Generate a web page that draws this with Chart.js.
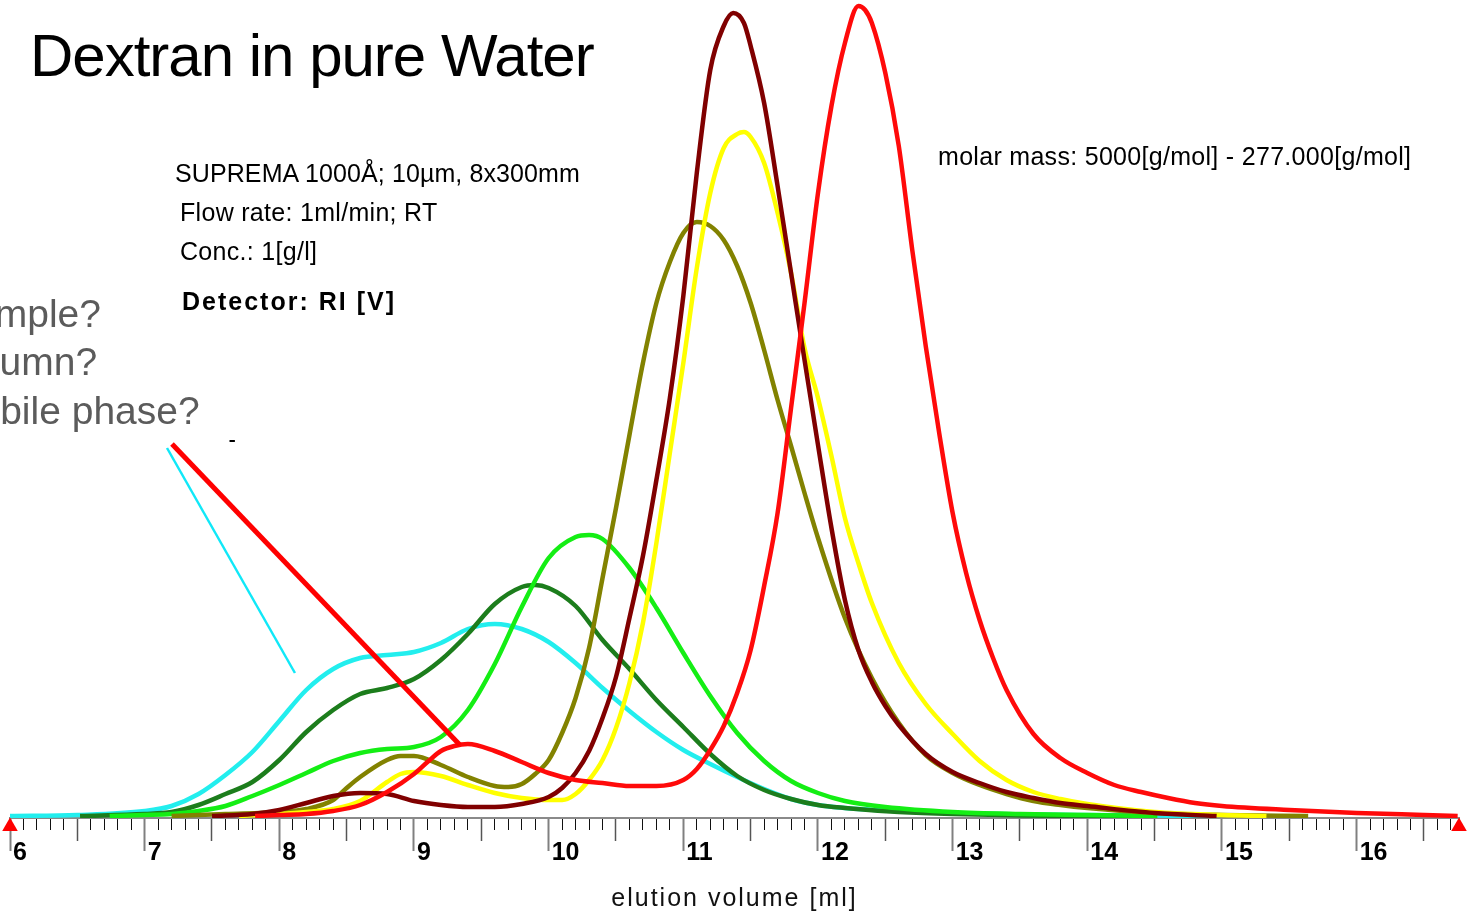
<!DOCTYPE html>
<html>
<head>
<meta charset="utf-8">
<title>Dextran in pure Water</title>
<script src="https://cdn.jsdelivr.net/npm/chart.js@4.4.1/dist/chart.umd.min.js"></script>
<style>
  html, body { margin: 0; padding: 0; background: #fff; }
  #wrap { position: relative; width: 1471px; height: 912px; overflow: hidden; }
  #wrap canvas { position: absolute; left: 0; top: 0; }
  .lbl { position: absolute; white-space: nowrap; line-height: 1; font-family: Arial, "Liberation Sans", sans-serif; color: #000; }
  .info { font-size: 25px; letter-spacing: 0.3px; }
  .ask { font-size: 39px; color: #5b5b5b; }
</style>
</head>
<body>
<div id="wrap">
  <canvas id="sec"></canvas>
  <div class="lbl" style="left:30px; top:26px; font-size:60px; letter-spacing:-1px;">Dextran in pure Water</div>
  <div class="lbl info" style="left:175px; top:161px; letter-spacing:0.1px;">SUPREMA 1000Å; 10µm, 8x300mm</div>
  <div class="lbl info" style="left:180px; top:200px;">Flow rate: 1ml/min; RT</div>
  <div class="lbl info" style="left:180px; top:239px;">Conc.: 1[g/l]</div>
  <div class="lbl info" style="left:182px; top:289px; font-weight:bold; letter-spacing:2px;">Detector: RI [V]</div>
  <div class="lbl info" style="left:938px; top:144px;">molar mass: 5000[g/mol] - 277.000[g/mol]</div>
  <div class="lbl ask" style="left:-53px; top:294px;">Sample?</div>
  <div class="lbl ask" style="left:-59px; top:342px;">Column?</div>
  <div class="lbl ask" style="left:-54px; top:391px;">Mobile phase?</div>
  <div class="lbl" style="left:0; width:1469px; text-align:center; top:885px; font-size:25px; letter-spacing:2px; color:#111;">elution volume [ml]</div>
</div>
<script>
// elution volume [ml] / detector signal (RI)
const cyanX = [6.0, 6.5, 7.0, 7.2, 7.4, 7.6, 7.8, 8.0, 8.2, 8.4, 8.6, 8.8, 9.0, 9.2, 9.4, 9.6, 9.8, 10.0, 10.2, 10.4, 10.6, 10.8, 11.0, 11.2, 11.4, 11.6, 11.8, 12.0, 12.2, 12.6, 13.0, 14.0, 14.95];
const cyanY = [2, 3, 7, 12, 24, 43, 66, 97, 128, 149, 160, 163, 166, 175, 189, 194, 189, 176, 155, 130, 107, 86, 68, 54, 41, 29, 19, 13, 10, 7, 5, 3, 2];

const darkGreenX = [6.52, 7.0, 7.2, 7.4, 7.6, 7.8, 8.0, 8.2, 8.4, 8.6, 8.8, 9.0, 9.2, 9.4, 9.6, 9.8, 9.9, 10.0, 10.2, 10.4, 10.6, 10.8, 11.0, 11.2, 11.4, 11.6, 11.8, 12.0, 12.2, 12.6, 13.0, 14.0, 14.5];
const darkGreenY = [2, 4, 6, 13, 24, 36, 58, 86, 108, 124, 130, 139, 158, 184, 214, 231, 233, 230, 212, 178, 149, 118, 91, 64, 42, 28, 19, 13, 10, 6, 4, 2, 2];

const greenX = [6.74, 7.0, 7.2, 7.4, 7.6, 7.8, 8.0, 8.2, 8.4, 8.6, 8.8, 9.0, 9.2, 9.4, 9.6, 9.8, 10.0, 10.2, 10.3, 10.4, 10.6, 10.8, 11.0, 11.2, 11.4, 11.6, 11.8, 12.0, 12.2, 12.5, 13.0, 13.5, 14.0, 14.52];
const greenY = [2, 3, 4, 7, 12, 22, 33, 45, 57, 65, 69, 71, 81, 108, 154, 211, 260, 281, 283, 279, 250, 210, 165, 122, 85, 57, 37, 25, 17, 11, 6, 4, 3, 2];

const oliveX = [7.2, 7.6, 8.0, 8.2, 8.4, 8.5, 8.6, 8.8, 8.9, 9.0, 9.2, 9.4, 9.6, 9.7, 9.8, 9.9, 10.0, 10.1, 10.2, 10.3, 10.4, 10.5, 10.6, 10.7, 10.8, 10.9, 11.0, 11.1, 11.2, 11.3, 11.4, 11.5, 11.6, 11.7, 11.8, 11.9, 12.0, 12.2, 12.4, 12.6, 12.8, 13.0, 13.2, 13.4, 13.6, 13.8, 14.0, 14.5, 15.0, 15.64];
const oliveY = [2, 4, 6, 9, 18, 30, 41, 58, 62, 62, 53, 41, 32, 31, 34, 44, 58, 85, 120, 170, 240, 310, 383, 455, 515, 556, 585, 596, 592, 578, 552, 515, 468, 418, 372, 325, 280, 200, 140, 95, 63, 45, 33, 24, 17, 13, 10, 5, 3, 2];

const yellowX = [7.7, 8.0, 8.2, 8.4, 8.6, 8.8, 8.9, 9.0, 9.2, 9.4, 9.6, 9.8, 10.0, 10.1, 10.2, 10.3, 10.4, 10.5, 10.6, 10.7, 10.8, 10.9, 11.0, 11.1, 11.2, 11.3, 11.4, 11.45, 11.5, 11.6, 11.7, 11.8, 11.9, 12.0, 12.1, 12.2, 12.3, 12.4, 12.6, 12.8, 13.0, 13.2, 13.4, 13.6, 13.8, 14.0, 14.5, 15.0, 15.33];
const yellowY = [2, 4, 6, 9, 17, 36, 44, 46, 42, 33, 25, 20, 18, 18, 24, 38, 58, 90, 135, 195, 275, 365, 455, 550, 625, 670, 684, 686, 681, 655, 605, 545, 470, 420, 362, 300, 255, 215, 155, 114, 84, 57, 38, 26, 19, 14, 6, 3, 2];

const maroonX = [7.5, 7.8, 8.0, 8.2, 8.4, 8.6, 8.8, 9.0, 9.2, 9.4, 9.6, 9.8, 10.0, 10.1, 10.2, 10.3, 10.4, 10.5, 10.6, 10.7, 10.8, 10.9, 11.0, 11.1, 11.2, 11.3, 11.37, 11.45, 11.5, 11.6, 11.7, 11.8, 11.9, 12.0, 12.1, 12.2, 12.3, 12.4, 12.5, 12.6, 12.8, 13.0, 13.2, 13.4, 13.6, 13.8, 14.0, 14.5, 14.96];
const maroonY = [2, 4, 8, 15, 22, 25, 24, 17, 13, 11, 11, 14, 21, 30, 45, 67, 100, 141, 200, 262, 338, 420, 522, 645, 748, 792, 805, 795, 772, 715, 632, 545, 458, 373, 290, 218, 168, 136, 112, 93, 64, 46, 35, 26, 20, 15, 12, 5, 2];

const redX = [7.82, 8.0, 8.2, 8.4, 8.6, 8.8, 9.0, 9.1, 9.2, 9.3, 9.4, 9.6, 9.8, 10.0, 10.2, 10.4, 10.6, 10.8, 11.0, 11.1, 11.2, 11.3, 11.4, 11.5, 11.6, 11.7, 11.8, 11.9, 12.0, 12.1, 12.2, 12.3, 12.35, 12.4, 12.5, 12.6, 12.7, 12.8, 12.9, 13.0, 13.1, 13.2, 13.3, 13.4, 13.6, 13.8, 14.0, 14.2, 14.4, 14.6, 14.8, 15.0, 15.5, 16.0, 16.5, 16.75];
const redY = [2, 3, 4, 7, 13, 26, 44, 56, 67, 72, 74, 67, 56, 45, 38, 35, 32, 32, 38, 49, 68, 92, 125, 168, 232, 305, 410, 515, 625, 712, 775, 812, 808, 795, 745, 672, 568, 472, 385, 305, 245, 198, 160, 128, 84, 60, 45, 33, 26, 20, 15, 12, 8, 5, 3, 2];

// pointer lines from the question text
const cyanPointerX = [7.166, 8.116];
const cyanPointerY = [370, 145];
const redPointerX = [7.203, 9.341];
const redPointerY = [374, 73];
const dashX = [7.63, 7.67];
const dashY = [377, 377];

// axis range and end markers
const xMin = 6;
const xMax = 16.76;
const markerX = [xMin, xMax];
const markerY = [-8.5, -8.5];

const toPoints = (xs, ys) => xs.map((x, i) => ({ x: x, y: ys[i] }));

// bottom to top drawing order
const curves = [
    { label: 'cyan', xs: cyanX, ys: cyanY, color: '#22eeee' },
    { label: 'dark green', xs: darkGreenX, ys: darkGreenY, color: '#1c7d1c' },
    { label: 'green', xs: greenX, ys: greenY, color: '#14ee14' },
    { label: 'olive', xs: oliveX, ys: oliveY, color: '#828200' },
    { label: 'yellow', xs: yellowX, ys: yellowY, color: '#ffff00' },
    { label: 'maroon', xs: maroonX, ys: maroonY, color: '#800000' },
    { label: 'red', xs: redX, ys: redY, color: '#ff0a0a' }
];

const datasets = curves.map((c, i) => ({
    label: c.label,
    data: toPoints(c.xs, c.ys),
    borderColor: c.color,
    backgroundColor: c.color,
    borderWidth: 4.5,
    pointRadius: 0,
    fill: false,
    cubicInterpolationMode: 'monotone',
    order: 100 - i
}));

datasets.push(
    { label: 'pointer cyan', data: toPoints(cyanPointerX, cyanPointerY), borderColor: '#10e8f8', borderWidth: 2.5, pointRadius: 0, tension: 0, order: 5 },
    { label: 'pointer red', data: toPoints(redPointerX, redPointerY), borderColor: '#ff0000', borderWidth: 5, pointRadius: 0, tension: 0, order: 4 },
    { label: 'dash', data: toPoints(dashX, dashY), borderColor: '#000', borderWidth: 2, pointRadius: 0, tension: 0, order: 3 },
    {
        label: 'axis ends', data: toPoints(markerX, markerY), showLine: false, clip: false,
        pointStyle: 'triangle', pointRadius: 9, pointBackgroundColor: '#ff0000', pointBorderColor: '#ff0000', pointBorderWidth: 0, order: 1
    }
);

// tick kind from value: 2 = whole ml, 1 = half ml, 0 = tenth
function tickKind(ctx) {
    const v = ctx.tick ? ctx.tick.value : 0;
    const r = Math.round(v * 10);
    if (r % 10 === 0) return 2;
    if (r % 5 === 0) return 1;
    return 0;
}

const ctx = document.getElementById('sec').getContext('2d');
const secChart = new Chart(ctx, {
    type: 'line',
    data: { datasets: datasets },
    options: {
        responsive: true,
        maintainAspectRatio: false,
        animation: false,
        layout: { autoPadding: false, padding: { left: 10, right: 12, top: 0, bottom: 0 } },
        plugins: {
            legend: { display: false },
            tooltip: { enabled: false },
            title: { display: false }
        },
        scales: {
            x: {
                type: 'linear',
                position: 'bottom',
                min: xMin,
                max: xMax,
                afterFit: function (scale) {
                    scale.height = 94; // room for labels + the html axis title
                },
                ticks: {
                    stepSize: 0.1,
                    autoSkip: false,
                    includeBounds: false,
                    maxRotation: 0,
                    align: 'start',
                    labelOffset: 3,
                    padding: -13,
                    color: '#000',
                    font: { family: 'Arial, "Liberation Sans", sans-serif', size: 25, weight: 'bold' },
                    callback: function (v) {
                        const r = Math.round(v * 10);
                        return r % 10 === 0 ? String(r / 10) : '';
                    }
                },
                grid: {
                    drawOnChartArea: false,
                    drawTicks: true,
                    tickLength: 33,
                    tickColor: (c) => ['#111', '#555', '#808080'][tickKind(c)],
                    tickWidth: (c) => [1, 1.5, 2][tickKind(c)],
                    tickBorderDash: (c) => [[11, 60], [22, 60], []][tickKind(c)]
                },
                border: { display: true, color: '#8a8a8a', width: 2 }
            },
            y: {
                display: false,
                min: 0,
                max: 818
            }
        }
    }
});
</script>
</body>
</html>
